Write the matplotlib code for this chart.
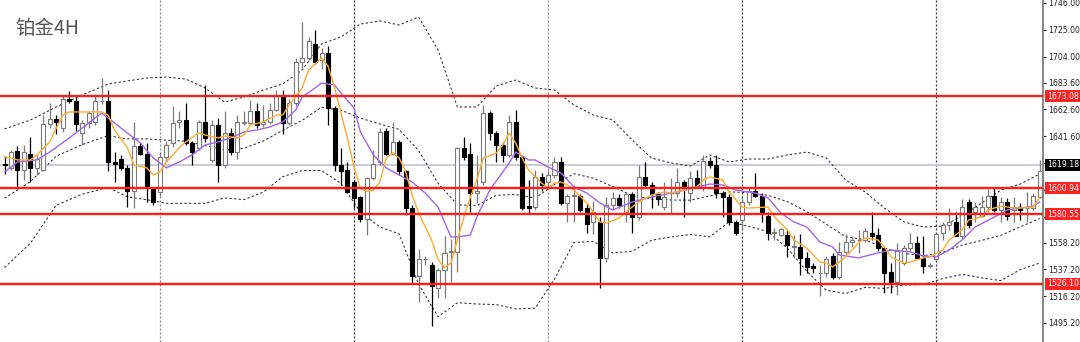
import matplotlib
matplotlib.use("Agg")
import matplotlib.pyplot as plt
import matplotlib.transforms as mtransforms
from matplotlib import font_manager

# ---------------- data ----------------
title = "铂金4H"

opens = [1620, 1617, 1630, 1615, 1628, 1617, 1615, 1651, 1655, 1648,
         1671, 1669, 1644, 1652, 1653, 1669, 1669, 1621, 1624, 1617,
         1599, 1634, 1628, 1601, 1598, 1625, 1636, 1653, 1654, 1636,
         1632, 1653, 1623, 1650, 1619, 1644, 1629, 1652, 1652, 1661,
         1651, 1653, 1662, 1673, 1652, 1668, 1700, 1703, 1714, 1701,
         1707, 1664, 1619, 1615, 1606, 1594, 1577, 1609, 1621, 1646,
         1628, 1637, 1614, 1585, 1532, 1545, 1541, 1523, 1537, 1551,
         1551, 1632, 1628, 1597, 1606, 1660, 1644, 1635, 1627, 1653,
         1625, 1587, 1586, 1610, 1606, 1611, 1621, 1589, 1595, 1595,
         1585, 1574, 1574, 1546, 1588, 1593, 1582, 1596, 1578, 1610,
         1603, 1596, 1586, 1597, 1597, 1606, 1597, 1609, 1602, 1622,
         1619, 1597, 1594, 1574, 1576, 1590, 1599, 1595, 1579, 1566,
         1564, 1564, 1555, 1555, 1546, 1540, 1534, 1534, 1548, 1531,
         1551, 1559, 1560, 1560, 1566, 1564, 1554, 1535, 1527, 1542,
         1554, 1558, 1546, 1540, 1545, 1566, 1572, 1574, 1563, 1590,
         1582, 1579, 1586, 1595, 1584, 1590, 1584, 1586, 1585, 1585,
         1594]
highs = [1626, 1631, 1634, 1635, 1641, 1627, 1658, 1668, 1658, 1673,
         1677, 1672, 1654, 1661, 1674, 1687, 1678, 1629, 1627, 1619,
         1653, 1636, 1636, 1602, 1629, 1638, 1665, 1661, 1668, 1638,
         1654, 1682, 1654, 1656, 1661, 1648, 1658, 1661, 1670, 1668,
         1666, 1668, 1678, 1678, 1671, 1703, 1731, 1719, 1725, 1711,
         1712, 1665, 1632, 1621, 1607, 1595, 1610, 1631, 1648, 1648,
         1653, 1639, 1615, 1588, 1553, 1548, 1543, 1538, 1563, 1561,
         1633, 1641, 1636, 1627, 1666, 1661, 1646, 1637, 1658, 1662,
         1625.5, 1607, 1615, 1613, 1615, 1625, 1625, 1596, 1603, 1596,
         1589, 1591, 1578, 1594, 1598, 1596, 1598, 1598, 1619, 1621,
         1606, 1598, 1606, 1609, 1617, 1607, 1614, 1615, 1627, 1625,
         1627, 1599, 1596, 1576, 1593, 1601, 1613, 1597, 1582, 1570,
         1570, 1568, 1564, 1565, 1551, 1542, 1541, 1548, 1550, 1559,
         1565, 1563, 1568, 1570, 1582, 1570, 1554.5, 1542, 1558, 1556,
         1566, 1563, 1563, 1542, 1566, 1574, 1585, 1582, 1592, 1592,
         1590, 1595, 1600, 1602, 1594, 1593, 1594, 1589, 1598, 1597,
         1623]
lows = [1612, 1615, 1601, 1607, 1606, 1611, 1614, 1648, 1643, 1645,
        1668, 1646, 1635, 1648, 1650, 1667, 1614, 1606, 1615, 1586,
        1585, 1627, 1590, 1588, 1595, 1621, 1633, 1648, 1635, 1619,
        1631, 1637, 1621, 1606, 1617, 1627, 1624, 1650, 1650, 1648,
        1649, 1651, 1661, 1643, 1650, 1665, 1695, 1701, 1698, 1694,
        1650, 1614, 1603, 1597, 1585, 1574, 1564, 1607, 1619, 1627,
        1627, 1611, 1580, 1526, 1512, 1541, 1493, 1515, 1515, 1527,
        1535, 1623, 1582, 1589, 1603, 1639, 1621, 1621, 1625, 1623,
        1584, 1581, 1584, 1599, 1602, 1609, 1588, 1574, 1574, 1582,
        1566, 1565, 1523, 1543, 1584, 1585, 1574, 1566, 1576, 1602,
        1585, 1588, 1584, 1581, 1594, 1578, 1590, 1601, 1599, 1617,
        1593, 1578, 1572, 1564, 1568, 1588, 1594, 1574, 1560, 1560,
        1563, 1547, 1546, 1533, 1534, 1534, 1516, 1531, 1530, 1530,
        1549, 1555, 1550, 1559, 1560, 1552, 1519, 1519, 1517, 1541,
        1552, 1545, 1534, 1538, 1545, 1560, 1568, 1563, 1562, 1570,
        1574, 1578, 1582, 1582, 1574, 1576, 1574, 1576, 1574, 1584,
        1593]
closes = [1619, 1629, 1615, 1629, 1617, 1624, 1651, 1655, 1653, 1671,
          1669, 1651, 1652, 1660, 1669, 1669.5, 1621, 1620, 1617, 1599,
          1634, 1628, 1601, 1590, 1625, 1635, 1652, 1654, 1636, 1629,
          1653, 1640, 1650, 1619, 1644, 1629, 1653, 1653, 1661, 1650,
          1653, 1662, 1673, 1652, 1668, 1700, 1703, 1716, 1700, 1707,
          1664, 1619, 1614, 1598, 1593, 1577, 1609, 1620, 1645, 1628,
          1637, 1614, 1585, 1532, 1545, 1545.5, 1524, 1537, 1550, 1551.5,
          1632, 1625, 1597, 1599, 1660, 1644, 1635, 1627, 1653, 1625,
          1585, 1585, 1610, 1603, 1611, 1621, 1589, 1595, 1595.5, 1584,
          1573, 1582, 1546, 1588, 1593, 1588, 1596, 1578, 1610, 1603,
          1596, 1592, 1594, 1597.5, 1606, 1602, 1609, 1602, 1622, 1619,
          1597, 1594, 1574, 1566, 1590, 1599, 1595, 1582, 1566, 1566.5,
          1569, 1556, 1555.5, 1546, 1539, 1538, 1534.5, 1545, 1531, 1551,
          1559, 1560, 1560.5, 1567, 1563, 1554, 1534, 1526, 1552, 1554,
          1558, 1546, 1540, 1540.5, 1565, 1572, 1574, 1563, 1586, 1572,
          1586, 1586, 1595, 1584, 1590, 1579, 1586, 1584, 1585.5, 1595,
          1614]

band_idx = [0, 4, 8, 12, 16, 19, 22, 25, 28, 31, 34, 37, 40, 43, 46, 49, 52,
            55, 58, 61, 64, 67, 70, 73, 76, 79, 82, 85, 88, 91, 94, 97, 100,
            103, 106, 109, 112, 115, 118, 121, 124, 127, 130, 133, 136, 139,
            142, 145, 148, 151, 154, 157, 160]
band_upper = [1647.3, 1654.3, 1664.5, 1673.9, 1682.5, 1684.9, 1687.2, 1688.0,
              1686.4, 1679.4, 1668.4, 1672.3, 1677.8, 1682.5, 1693.5, 1713.9,
              1719.4, 1729.5, 1731.9, 1728.8, 1735.0, 1709.2, 1664.5, 1664.5,
              1681.0, 1685.6, 1679.4, 1677.8, 1666.1, 1658.2, 1654.3, 1638.6,
              1624.5, 1620.6, 1618.2, 1626.9, 1621.4, 1623.7, 1623.7, 1626.9,
              1629.2, 1624.5, 1607.3, 1597.9, 1585.3, 1574.4, 1570.4, 1571.2,
              1579.1, 1589.2, 1599.4, 1604.1, 1612.0]
band_mid = [1593.0, 1606.0, 1626.0, 1635.0, 1642.0, 1639.5, 1639.5, 1638.5,
            1637.7, 1634.2, 1630.8, 1632.1, 1637.8, 1646.2, 1654.1, 1664.3,
            1662.0, 1655.8, 1651.2, 1646.9, 1630.3, 1604.7, 1587.8, 1587.3,
            1595.3, 1595.9, 1593.1, 1603.7, 1612.2, 1608.7, 1602.2, 1595.0,
            1592.3, 1591.6, 1591.4, 1594.8, 1598.0, 1597.3, 1595.3, 1590.3,
            1582.4, 1572.7, 1562.8, 1560.5, 1553.8, 1549.7, 1547.9, 1550.6,
            1556.2, 1559.9, 1563.9, 1570.6, 1577.1]
band_lower = [1538.7, 1557.7, 1587.5, 1596.1, 1601.5, 1594.1, 1591.8, 1589.0,
              1589.0, 1589.0, 1593.2, 1591.9, 1597.8, 1609.9, 1614.7, 1614.7,
              1604.6, 1582.1, 1570.5, 1565.0, 1525.6, 1500.2, 1511.1, 1510.1,
              1509.6, 1506.2, 1506.8, 1529.6, 1558.3, 1559.2, 1550.1, 1551.4,
              1560.1, 1562.6, 1564.6, 1562.7, 1574.6, 1570.9, 1566.9, 1553.7,
              1535.6, 1520.9, 1518.3, 1523.1, 1522.3, 1525.0, 1525.4, 1530.0,
              1533.3, 1530.6, 1528.4, 1537.1, 1542.2]

ma_fast_idx = [0, 1, 2, 4, 5, 7, 8, 9, 10, 13, 15, 16, 17, 19, 20, 22, 23, 24,
               25, 27, 28, 30, 31, 33, 34, 36, 37, 38, 40, 42, 43, 44, 46, 47,
               49, 50, 51, 52, 53, 54, 55, 56, 57, 58, 59, 60, 61, 62, 63, 64,
               66, 67, 68, 69, 70, 71, 72, 73, 74, 76, 77, 78, 79, 80, 81, 83,
               84, 85, 86, 87, 88, 90, 92, 93, 95, 96, 98, 100, 102, 103, 105,
               107, 108, 109, 111, 112, 114, 115, 118, 119, 121, 122, 124, 126,
               127, 128, 130, 132, 133, 135, 136, 137, 139, 140, 142, 143, 145,
               146, 148, 149, 151, 152, 154, 156, 157, 159, 160]
ma_fast = [1625.3, 1624.5, 1623.0, 1623.0, 1626.9, 1637.1, 1648.0, 1658.2,
           1660.6, 1660.6, 1660.6, 1658.2, 1646.5, 1632.4, 1619.0, 1616.7,
           1611.2, 1613.6, 1621.4, 1632.4, 1637.1, 1644.1, 1642.5, 1640.2,
           1641.8, 1640.2, 1642.5, 1650.4, 1652.8, 1658.2, 1658.2, 1666.1,
           1679.4, 1693.5, 1702.9, 1696.5, 1680.0, 1660.0, 1640.0, 1618.0,
           1600.5, 1598.5, 1599.4, 1605.7, 1624.5, 1628.4, 1624.5, 1613.6,
           1595.5, 1581.4, 1560.3, 1545.0, 1538.5, 1542.2, 1560.3, 1578.3,
           1594.0, 1607.3, 1624.5, 1628.4, 1634.7, 1644.1, 1636.3, 1624.5,
           1615.1, 1604.9, 1601.0, 1604.9, 1605.7, 1603.4, 1599.4, 1589.3,
           1574.4, 1573.6, 1577.5, 1582.2, 1590.0, 1595.5, 1597.9, 1597.1,
           1599.4, 1601.8, 1607.3, 1609.6, 1607.3, 1597.9, 1586.1, 1585.3,
           1586.1, 1578.3, 1568.1, 1560.3, 1554.0, 1543.0, 1542.2, 1539.1,
           1547.0, 1557.9, 1561.8, 1560.3, 1554.8, 1547.0, 1542.2, 1543.0,
           1546.2, 1547.0, 1552.4, 1560.3, 1568.1, 1575.9, 1578.3, 1583.8,
           1586.9, 1585.3, 1585.3, 1586.1, 1593.9]

ma_slow_idx = [0, 2, 5, 7, 10, 12, 14, 15, 16, 18, 21, 23, 25, 27, 29, 31, 33,
               35, 37, 39, 41, 43, 45, 46, 48, 49, 51, 52, 54, 55, 57, 59, 61,
               63, 65, 67, 69, 70, 72, 73, 75, 78, 79, 81, 82, 84, 86, 88, 90,
               92, 94, 97, 100, 104, 107, 109, 111, 113, 116, 118, 120, 122,
               124, 126, 128, 129, 132, 135, 137, 140, 142, 144, 146, 148, 150,
               153, 155, 157, 159, 160]
ma_slow = [1613.6, 1621.4, 1623.0, 1629.2, 1640.2, 1648.0, 1655.9, 1659.8,
           1655.9, 1648.0, 1636.3, 1624.5, 1616.7, 1621.4, 1626.9, 1634.7,
           1637.1, 1640.2, 1644.9, 1646.5, 1648.8, 1652.8, 1662.1, 1672.3,
           1679.4, 1683.3, 1681.7, 1675.5, 1663.7, 1644.9, 1626.9, 1616.7,
           1611.2, 1605.7, 1597.1, 1586.1, 1562.6, 1562.6, 1564.2, 1578.3,
           1599.4, 1620.6, 1629.2, 1623.0, 1623.0, 1617.5, 1612.8, 1601.8,
           1597.1, 1589.3, 1583.8, 1590.0, 1593.9, 1597.9, 1601.8, 1604.1,
           1603.4, 1599.4, 1597.1, 1593.2, 1581.4, 1574.4, 1570.4, 1558.7,
           1554.8, 1548.5, 1546.2, 1550.1, 1552.4, 1550.9, 1547.7, 1547.0,
           1552.4, 1560.3, 1570.4, 1578.3, 1583.8, 1585.3, 1586.9, 1590.0]

level_lines = [1673.08, 1600.94, 1580.55, 1526.10]
level_labels = ["1673.08", "1600.94", "1580.55", "1526.10"]
last_price = 1619.18
last_label = "1619.18"
week_starts = [24, 54, 84, 114, 144]
week_dark = [False, True, False, True, True]
y_ticks = [1746.00, 1725.00, 1704.00, 1683.60, 1662.60, 1641.60, 1620.60,
           1599.60, 1578.60, 1558.20, 1537.20, 1516.20, 1495.20]
hidden_tick_labels = [1620.60, 1599.60, 1578.60]   # covered by the price boxes

# ---------------- fonts ----------------
names = {f.name for f in font_manager.fontManager.ttflist}
axis_font = "Liberation Sans Narrow" if "Liberation Sans Narrow" in names else "DejaVu Sans"
axis_size = 7.0 if axis_font == "Liberation Sans Narrow" else 5.6

# ---------------- figure ----------------
fig = plt.figure(figsize=(10.8, 3.42), dpi=100)
ax = fig.add_axes([0.0, 0.0, 1043 / 1080, 1.0])
ax.set_facecolor("white")
ax.set_xlim(-0.7, 160.5)
ax.set_ylim(1480.3, 1748.35)

for s in ("top", "left", "bottom"):
    ax.spines[s].set_visible(False)
ax.spines["right"].set_color("#7d7d7d")
ax.spines["right"].set_linewidth(1.3)

ax.set_xticks([])
ax.yaxis.tick_right()
ax.set_yticks(y_ticks)
ax.set_yticklabels(["" if v in hidden_tick_labels else f"{v:.2f}" for v in y_ticks])
ax.tick_params(axis="y", direction="out", length=2.5, width=0.8, color="#222222",
               pad=1.5, labelsize=axis_size, labelcolor="#222222")
for lab in ax.get_yticklabels():
    lab.set_fontfamily(axis_font)

# vertical separators
for i, dark in zip(week_starts, week_dark):
    ax.axvline(i, color="#333333" if dark else "#8a8a8a",
               linestyle=(0, (1.6, 1.6)), linewidth=0.9, zorder=1)

# last price line
ax.axhline(last_price, color="#c3c9d3", linewidth=1.3, zorder=1)

# Bollinger bands
for series in (band_upper, band_mid, band_lower):
    ax.plot(band_idx, series, color="#2b2b2b", linewidth=0.75,
            linestyle=(0, (2.2, 2.2)), zorder=2)

# candles
width = 0.62
for i, (o, h, l, c) in enumerate(zip(opens, highs, lows, closes)):
    bear = c < o
    col = "#000000" if bear else "#7a7a7a"
    ax.vlines(i, l, h, color=col, linewidth=0.9, zorder=3)
    bottom = min(o, c)
    height = max(abs(c - o), 0.15)
    ax.bar(i, height, width=width, bottom=bottom,
           facecolor="#000000" if bear else "#ffffff",
           edgecolor="#000000" if bear else "#7a7a7a",
           linewidth=0.8, zorder=4)

# moving averages
ax.plot(ma_slow_idx, ma_slow, color="#a066ee", linewidth=1.0, zorder=5)
ax.plot(ma_fast_idx, ma_fast, color="#ffab2e", linewidth=1.0, zorder=6)

# level lines
for v in level_lines:
    ax.axhline(v, color="#ff1c1c", linewidth=1.7, zorder=7)

# right-hand price boxes
trans = mtransforms.blended_transform_factory(ax.transAxes, ax.transData)
for v, lab in zip(level_lines, level_labels):
    ax.text(1.0035, v, lab, transform=trans, ha="left", va="center",
            fontsize=axis_size, family=axis_font, color="white", clip_on=False,
            bbox=dict(boxstyle="square,pad=0.2", facecolor="#ff2323",
                      edgecolor="none"), zorder=10)
ax.text(1.0035, last_price, last_label, transform=trans, ha="left", va="center",
        fontsize=axis_size, family=axis_font, color="white", clip_on=False,
        bbox=dict(boxstyle="square,pad=0.2", facecolor="#000000",
                  edgecolor="none"), zorder=10)

# title
fig.text(15 / 1080, 1 - 29 / 342, title, fontsize=14, color="#555555",
         family=["Noto Sans CJK SC", "DejaVu Sans"], ha="left", va="center")

fig.savefig("out.png", dpi=100, facecolor="white")
